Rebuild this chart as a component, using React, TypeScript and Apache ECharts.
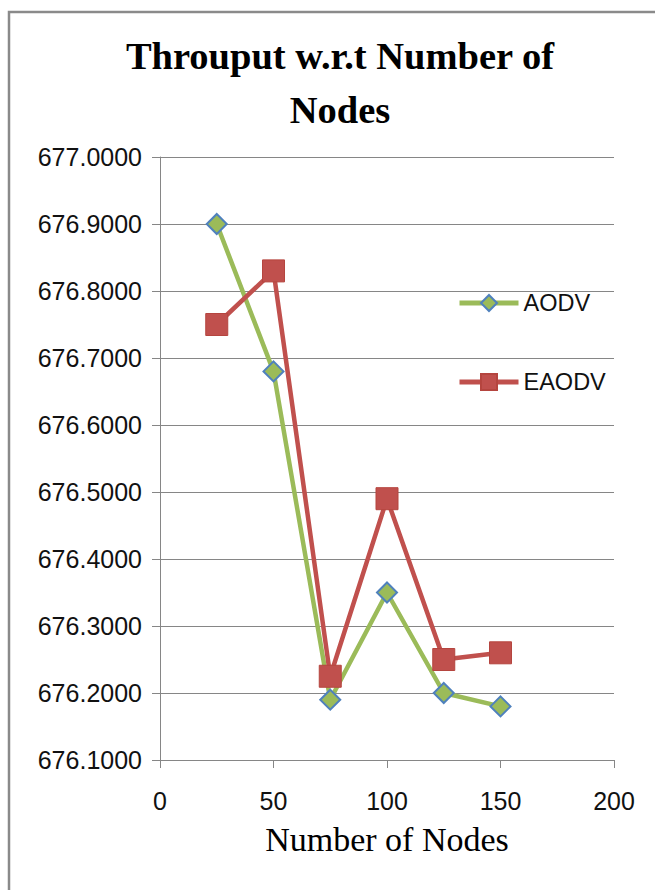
import React, { useEffect, useRef } from "react";
import * as echarts from "echarts";

const nodes = [25, 50, 75, 100, 125, 150];
const aodv = [676.9, 676.68, 676.19, 676.35, 676.2, 676.18];
const eaodv = [676.75, 676.83, 676.225, 676.49, 676.25, 676.26];
const seriesNames = ["AODV", "EAODV"];
const titleText = "Throuput w.r.t Number of\nNodes";
const xAxisName = "Number of Nodes";

export default function App() {
  const ref = useRef<HTMLDivElement>(null);
  useEffect(() => {
    if (!ref.current) return;
    const chart = echarts.init(ref.current, undefined, { renderer: "svg" });
    const gridColor = "#868686";
    const tickFont = { fontFamily: "Liberation Sans", fontSize: 25, color: "#111" };
    chart.setOption({
      animation: false,
      backgroundColor: "#fff",
      title: {
        text: titleText,
        left: 340,
        top: 29,
        padding: 0,
        textAlign: "center",
        textStyle: {
          fontFamily: "Liberation Serif",
          fontWeight: "bold",
          fontSize: 38.5,
          lineHeight: 54,
          color: "#000",
        },
      },
      graphic: [
        {
          type: "rect",
          shape: { x: 9, y: 12, width: 720, height: 920 },
          style: { fill: "none", stroke: "#8a8a8a", lineWidth: 2.5 },
          silent: true,
        },
      ],
      legend: {
        orient: "vertical",
        left: 457,
        top: 291,
        padding: 0,
        itemWidth: 59,
        itemHeight: 20,
        itemGap: 55,
        lineStyle: { width: 5 },
        textStyle: { fontFamily: "Liberation Sans", fontSize: 23.5, color: "#111", lineHeight: 20 },
        data: seriesNames,
      },
      grid: { left: 160, right: 41, top: 157, bottom: 130, containLabel: false },
      xAxis: {
        type: "value",
        min: 0,
        max: 200,
        interval: 50,
        name: xAxisName,
        nameLocation: "middle",
        nameGap: 62,
        nameTextStyle: { fontFamily: "Liberation Serif", fontSize: 34, color: "#000" },
        axisLine: { show: true, lineStyle: { color: gridColor, width: 1 } },
        axisTick: { show: true, length: 8, lineStyle: { color: gridColor } },
        axisLabel: { ...tickFont, margin: 28 },
        splitLine: { show: false },
      },
      yAxis: {
        type: "value",
        min: 676.1,
        max: 677.0,
        interval: 0.1,
        axisLine: { show: true, lineStyle: { color: gridColor, width: 1 } },
        axisTick: { show: true, length: 8, lineStyle: { color: gridColor } },
        axisLabel: {
          ...tickFont,
          margin: 18,
          formatter: (v: number) => v.toFixed(4),
        },
        splitLine: { show: true, lineStyle: { color: gridColor, width: 1 } },
      },
      series: [
        {
          name: seriesNames[0],
          type: "line",
          data: nodes.map((x, i) => [x, aodv[i]]),
          symbol: "diamond",
          symbolSize: 20,
          lineStyle: { color: "#9BBB59", width: 4.5 },
          itemStyle: { color: "#9BBB59", borderColor: "#4F81BD", borderWidth: 2 },
        },
        {
          name: seriesNames[1],
          type: "line",
          data: nodes.map((x, i) => [x, eaodv[i]]),
          symbol: "rect",
          symbolSize: 22,
          lineStyle: { color: "#C0504D", width: 4.5 },
          itemStyle: { color: "#C0504D", borderColor: "#B5453F", borderWidth: 1 },
        },
      ],
    });
    return () => chart.dispose();
  }, []);
  return (
    <div
      ref={ref}
      style={{ position: "fixed", left: 0, top: 0, width: 655, height: 890 }}
    />
  );
}
